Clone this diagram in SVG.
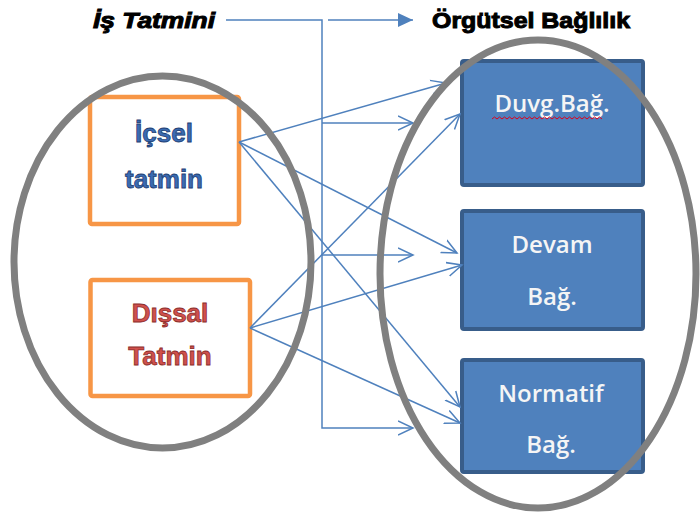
<svg xmlns="http://www.w3.org/2000/svg" width="700" height="518" viewBox="0 0 700 518">
  <style>
    .conn { stroke: #4F81BD; stroke-width: 1.5; fill: none; }
    .obox { fill: #FFFFFF; stroke: #F79646; stroke-width: 4.5; }
    .bbox { fill: #4F81BD; stroke: #385D8A; stroke-width: 4; }
    .ell { fill: none; stroke: #808080; stroke-width: 7; }
    .title { font-family: "Liberation Sans", Arial, sans-serif; font-weight: bold; font-size: 22px; fill: #000000; stroke: #000000; stroke-width: 1; }
    .blue { font-family: "Liberation Sans", Arial, sans-serif; font-weight: bold; font-size: 26px; fill: #3A6BB2; stroke: #1F3F73; stroke-width: 0.8; text-anchor: middle; }
    .red { font-family: "Liberation Sans", Arial, sans-serif; font-weight: bold; font-size: 26px; fill: #D0504C; stroke: #8B2E2B; stroke-width: 0.8; text-anchor: middle; }
    .lbl { font-family: "Open Sans", "Liberation Sans", sans-serif; font-weight: 600; font-size: 24px; fill: #F5F5F5; text-anchor: middle; }
  </style>
  <defs>
    <marker id="open" markerUnits="userSpaceOnUse" markerWidth="18" markerHeight="18" refX="15" refY="8" orient="auto">
      <path d="M0,1 L15,8 L0,15" fill="none" stroke="#4F81BD" stroke-width="1.5"/>
    </marker>
    <marker id="solid" markerUnits="userSpaceOnUse" markerWidth="18" markerHeight="18" refX="15" refY="8" orient="auto">
      <path d="M0,1 L15,8 L0,15 Z" fill="#4F81BD"/>
    </marker>
  </defs>

  <g id="title-is-tatmini">
    <text class="title" x="93" y="28" font-style="italic" textLength="122" lengthAdjust="spacingAndGlyphs">İş Tatmini</text>
  </g>
  <g id="title-orgutsel-baglilik">
    <text class="title" x="432" y="28" textLength="198" lengthAdjust="spacingAndGlyphs">Örgütsel Bağlılık</text>
  </g>

  <g id="icsel-tatmin">
    <rect class="obox" x="90" y="97" width="149" height="127" rx="2"/>
    <text class="blue" x="164" y="142">İçsel</text>
    <text class="blue" x="164" y="188">tatmin</text>
  </g>
  <g id="dissal-tatmin">
    <rect class="obox" x="90.5" y="280" width="159.5" height="116" rx="2"/>
    <text class="red" x="170" y="322">Dışsal</text>
    <text class="red" x="170" y="365">Tatmin</text>
  </g>

  <g id="duvg-bag">
    <rect class="bbox" x="462" y="61" width="181" height="124" rx="2"/>
    <text class="lbl" x="552" y="112">Duvg.Bağ.</text>
    <path d="M492,119 l2.5,-2 l2.5,2 l2.5,-2 l2.5,2 l2.5,-2 l2.5,2 l2.5,-2 l2.5,2 l2.5,-2 l2.5,2 l2.5,-2 l2.5,2 l2.5,-2 l2.5,2 l2.5,-2 l2.5,2 l2.5,-2 l2.5,2 l2.5,-2 l2.5,2 l2.5,-2 l2.5,2 l2.5,-2 l2.5,2 l2.5,-2 l2.5,2 l2.5,-2 l2.5,2 l2.5,-2 l2.5,2 l2.5,-2 l2.5,2 l2.5,-2 l2.5,2 l2.5,-2 l2.5,2 l2.5,-2 l2.5,2 l2.5,-2 l2.5,2 l2.5,-2 l2.5,2 l2.5,-2 l2.5,2" fill="none" stroke="#E0001A" stroke-width="1"/>
  </g>
  <g id="devam-bag">
    <rect class="bbox" x="462" y="211" width="181" height="118" rx="2"/>
    <text class="lbl" x="552" y="253">Devam</text>
    <text class="lbl" x="552" y="305">Bağ.</text>
  </g>
  <g id="normatif-bag">
    <rect class="bbox" x="462" y="360" width="181" height="112" rx="2"/>
    <text class="lbl" x="551" y="402">Normatif</text>
    <text class="lbl" x="551" y="453">Bağ.</text>
  </g>

  <g id="connectors">
    <line class="conn" x1="328" y1="20" x2="413" y2="20" marker-end="url(#solid)"/>
    <polyline class="conn" points="226,20 322,20 322,428 413,428" marker-end="url(#open)"/>
    <line class="conn" x1="322" y1="123" x2="413" y2="123" marker-end="url(#open)"/>
    <line class="conn" x1="322" y1="255" x2="413" y2="255" marker-end="url(#open)"/>
    <line class="conn" x1="239" y1="142" x2="446" y2="83" marker-end="url(#open)"/>
    <line class="conn" x1="239" y1="142" x2="457" y2="253" marker-end="url(#open)"/>
    <line class="conn" x1="239" y1="142" x2="460" y2="407" marker-end="url(#open)"/>
    <line class="conn" x1="250" y1="328" x2="460" y2="114" marker-end="url(#open)"/>
    <line class="conn" x1="250" y1="328" x2="462" y2="265" marker-end="url(#open)"/>
    <line class="conn" x1="250" y1="328" x2="460" y2="423" marker-end="url(#open)"/>
  </g>

  <g id="left-ellipse">
    <ellipse class="ell" cx="162.5" cy="262" rx="148.5" ry="186"/>
  </g>
  <g id="right-ellipse">
    <ellipse class="ell" cx="538" cy="274" rx="158" ry="234"/>
  </g>
</svg>
